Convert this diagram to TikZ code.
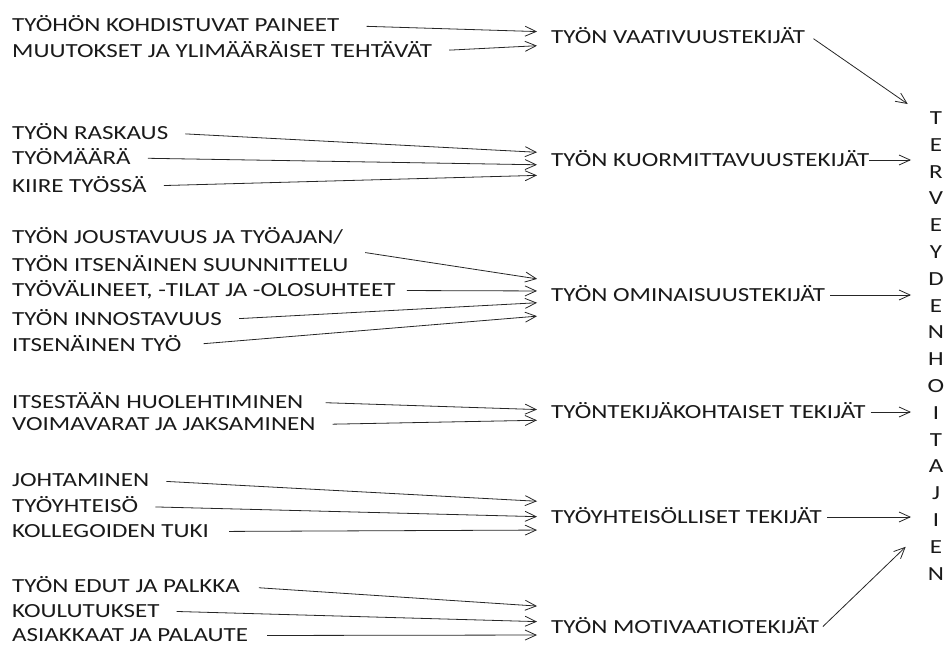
\documentclass[tikz,border=0pt]{standalone}
\usepackage{fontspec}
\setmainfont{Carlito}[FakeStretch=1.25]
\usetikzlibrary{arrows.meta}

\begin{document}
\begin{tikzpicture}[x=1pt,y=-1pt,->,>={Straight Barb[length=11pt,width=10pt]},
    every node/.style={font=\fontsize{20}{24}\selectfont, text=black!90, inner sep=0pt},
    cause/.style={anchor=west, text height=12.9pt, text depth=0pt},
    factor/.style={anchor=west, text height=12.9pt, text depth=0pt},
    letter/.style={text height=12.9pt, text depth=0pt},
    link/.style={line width=0.8pt, draw=black!85}]

    \useasboundingbox (0,0) rectangle (948,648);

    % left column
    \node[cause] (a1) at (12,25.5) {TYÖHÖN KOHDISTUVAT PAINEET};
    \node[cause] (a2) at (12,51) {MUUTOKSET JA YLIMÄÄRÄISET TEHTÄVÄT};

    \node[cause] (a3) at (12,133) {TYÖN RASKAUS};
    \node[cause] (a4) at (12,158) {TYÖMÄÄRÄ};
    \node[cause] (a5) at (12,186) {KIIRE TYÖSSÄ};

    \node[anchor=west, align=left, font=\fontsize{20}{28}\selectfont] (a6) at (12,250) {TYÖN JOUSTAVUUS JA TYÖAJAN/\\TYÖN ITSENÄINEN SUUNNITTELU};
    \node[cause] (a7) at (12,290.5) {TYÖVÄLINEET, -TILAT JA -OLOSUHTEET};
    \node[cause] (a8) at (12,319.5) {TYÖN INNOSTAVUUS};
    \node[cause] (a9) at (12,345.5) {ITSENÄINEN TYÖ};

    \node[cause] (a10) at (12,402) {ITSESTÄÄN HUOLEHTIMINEN};
    \node[cause] (a11) at (12,424.5) {VOIMAVARAT JA JAKSAMINEN};

    \node[cause] (a12) at (12,480.5) {JOHTAMINEN};
    \node[cause] (a13) at (12,506.5) {TYÖYHTEISÖ};
    \node[cause] (a14) at (12,531.5) {KOLLEGOIDEN TUKI};

    \node[cause] (a15) at (12,586.5) {TYÖN EDUT JA PALKKA};
    \node[cause] (a16) at (12,611) {KOULUTUKSET};
    \node[cause] (a17) at (12,635.5) {ASIAKKAAT JA PALAUTE};

    % middle column
    \node[factor] (m1) at (551,37) {TYÖN VAATIVUUSTEKIJÄT};
    \node[factor] (m2) at (551,160) {TYÖN KUORMITTAVUUSTEKIJÄT};
    \node[factor] (m3) at (551,295) {TYÖN OMINAISUUSTEKIJÄT};
    \node[factor] (m4) at (551,412) {TYÖNTEKIJÄKOHTAISET TEKIJÄT};
    \node[factor] (m5) at (551,517) {TYÖYHTEISÖLLISET TEKIJÄT};
    \node[factor] (m6) at (551,627) {TYÖN MOTIVAATIOTEKIJÄT};

    % vertical word
    \foreach \l [count=\i] in {T,E,R,V,E,Y,D,E,N,H,O,I,T,A,J,I,E,N}
        \node[letter] (t\i) at (936,118+26.8*\i-26.8) {\l};

    \coordinate (col) at (911,0);

    \path[link, shorten <=17pt, shorten >=14pt]
        (a1.east) edge[shorten <=27pt] ([yshift=5pt]m1.west)
        (a2.east) edge ([yshift=-8pt]m1.west)

        (a3.east) edge ([yshift=7pt]m2.west)
        (a4.east) edge ([yshift=-5pt]m2.west)
        (a5.east) edge ([yshift=-15pt]m2.west)

        (a6.east) edge ([yshift=14pt]m3.west)
        (a7.east) edge[shorten <=11pt] ([yshift=4pt]m3.west)
        (a8.east) edge ([yshift=-7pt]m3.west)
        (a9.east) edge[shorten <=22pt] ([yshift=-20pt]m3.west)

        (a10.east) edge[shorten <=22pt] ([yshift=2pt]m4.west)
        (a11.east) edge ([yshift=-8pt]m4.west)

        (a12.east) edge ([yshift=15pt]m5.west)
        (a13.east) edge (m5.west)
        (a14.east) edge[shorten <=20pt] ([yshift=-13pt]m5.west)

        (a15.east) edge[shorten <=19pt] ([yshift=20pt]m6.west)
        (a16.east) edge ([yshift=5pt]m6.west)
        (a17.east) edge[shorten <=19pt] ([yshift=-8pt]m6.west)
        ;

    \draw[link, shorten <=10pt] ([yshift=4pt]m1.east) -- ([xshift=-22pt,yshift=14pt]t1.west);
    \draw[link] (m2.east) -- (m2.east -| col);
    \draw[link, shorten <=5pt] (m3.east) -- (m3.east -| col);
    \draw[link, shorten <=5pt] (m4.east) -- (m4.east -| col);
    \draw[link, shorten <=5pt] (m5.east) -- (m5.east -| col);
    \draw[link, shorten <=5pt] ([yshift=-3pt]m6.east) -- ([xshift=-24pt]t17.west);
\end{tikzpicture}
\end{document}
